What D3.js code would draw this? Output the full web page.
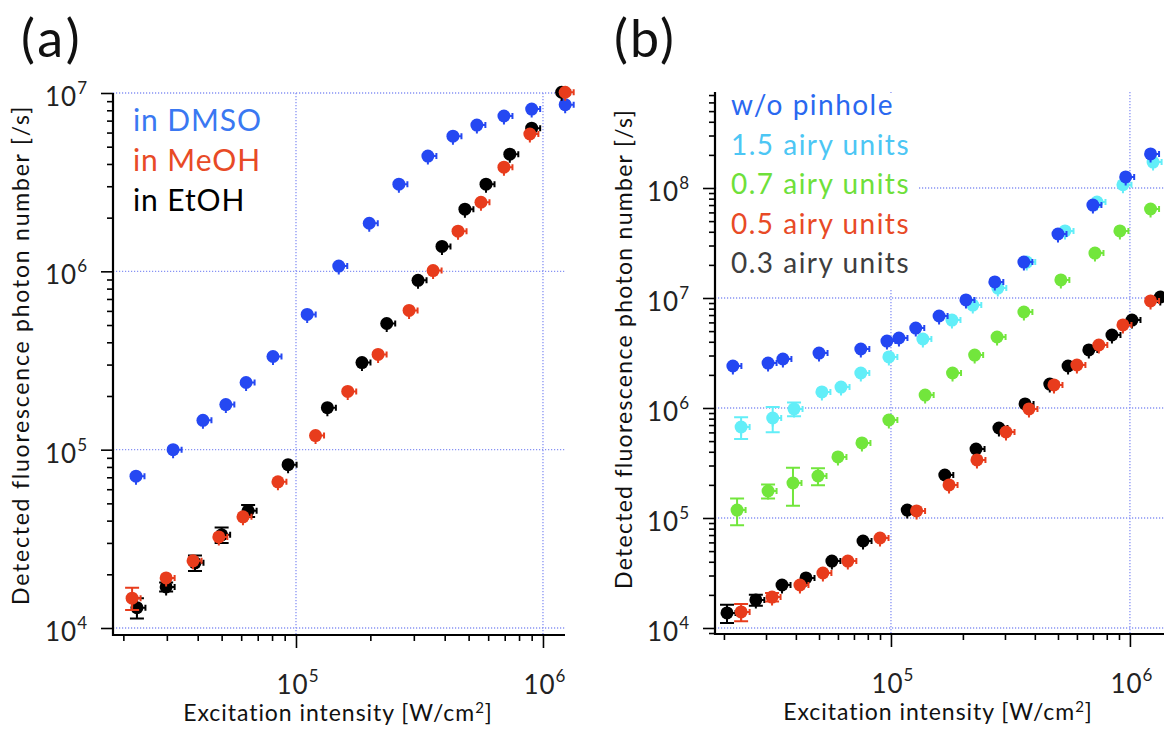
<!DOCTYPE html>
<html><head><meta charset="utf-8">
<script src="https://cdn.jsdelivr.net/npm/d3@7"></script>
<style>
body{margin:0;background:#fff}
svg{display:block}
text{font-family:Lato,"Open Sans",sans-serif;}
</style>
</head><body>
<svg id="c" width="1164" height="734"></svg>
<script>
// ---------- Panel (a) data ----------
const aX_DMSO = [2.25e4,3.18e4,4.2e4,5.2e4,6.28e4,8.07e4,1.11e5,1.49e5,1.98e5,2.61e5,3.42e5,4.32e5,5.4e5,6.95e5,9.0e5,1.23e6];
const aY_DMSO = [7.1e4,1.0e5,1.46e5,1.79e5,2.38e5,3.33e5,5.73e5,1.07e6,1.86e6,3.08e6,4.43e6,5.73e6,6.61e6,7.43e6,8.13e6,8.6e6];
const aE_DMSO = [0,0,0,0,0,0,0,0,0,0,0,0,0,0,0,0];

const aX_EtOH = [2.27e4,2.98e4,3.9e4,5.0e4,6.4e4,9.29e4,1.34e5,1.85e5,2.33e5,3.12e5,3.9e5,4.83e5,5.88e5,7.34e5,9.0e5,1.19e6];
const aY_EtOH = [1.3e4,1.7e4,2.32e4,3.33e4,4.54e4,8.24e4,1.72e5,3.08e5,5.1e5,8.9e5,1.38e6,2.23e6,3.08e6,4.54e6,6.35e6,1.01e7];
const aE_EtOH = [1.7e3,1.0e3,2.3e3,3.3e3,3.5e3,0,0,0,0,0,0,0,0,0,0,0];

const aX_MeOH = [2.17e4,2.98e4,3.83e4,4.87e4,6.1e4,8.45e4,1.2e5,1.62e5,2.15e5,2.87e5,3.59e5,4.53e5,5.61e5,6.95e5,8.85e5,1.23e6];
const aY_MeOH = [1.47e4,1.91e4,2.38e4,3.24e4,4.2e4,6.6e4,1.2e5,2.12e5,3.42e5,6.04e5,1.01e6,1.68e6,2.44e6,3.84e6,5.89e6,1.01e7];
const aE_MeOH = [2.1e3,0,0,0,0,0,0,0,0,0,0,0,0,0,0,0];

const aLegend = ["in DMSO","in MeOH","in EtOH"];

// ---------- Panel (b) data ----------
const bX_wo = [2.18e4,3.06e4,3.53e4,5.0e4,7.48e4,9.62e4,1.08e5,1.27e5,1.59e5,2.06e5,2.72e5,3.6e5,5.0e5,7.0e5,9.6e5,1.22e6];
const bY_wo = [2.41e6,2.56e6,2.79e6,3.16e6,3.44e6,4.06e6,4.33e6,5.33e6,6.86e6,9.6e6,1.4e7,2.12e7,3.82e7,7.0e7,1.26e8,2.04e8];
const bE_wo = [0,0,0,0,0,0,0,0,0,0,0,0,0,0,0,0];

const bX_15 = [2.36e4,3.2e4,3.93e4,5.14e4,6.18e4,7.48e4,9.8e4,1.36e5,1.8e5,2.2e5,2.8e5,3.7e5,5.35e5,7.28e5,9.35e5,1.25e6];
const bY_15 = [6.72e5,8.11e5,9.8e5,1.4e6,1.55e6,2.08e6,2.91e6,4.24e6,6.3e6,8.63e6,1.23e7,2.12e7,4.07e7,7.46e7,1.07e8,1.72e8];
const bE_15 = [1.5e5,2.1e5,1.4e5,0,0,0,0,0,0,0,0,0,0,0,0,0];

const bX_07 = [2.27e4,3.06e4,3.89e4,4.95e4,6.0e4,7.56e4,9.8e4,1.39e5,1.81e5,2.24e5,2.78e5,3.6e5,5.14e5,7.14e5,9.08e5,1.22e6];
const bY_07 = [1.18e5,1.76e5,2.08e5,2.41e5,3.59e5,4.81e5,7.78e5,1.31e6,2.08e6,3.03e6,4.42e6,7.46e6,1.46e7,2.56e7,4.07e7,6.44e7];
const bE_07 = [3.2e4,2.6e4,7.9e4,4.3e4,0,0,0,0,0,0,0,0,0,0,0,0];

const bX_05 = [2.36e4,3.18e4,4.16e4,5.19e4,6.6e4,9.0e4,1.28e5,1.75e5,2.29e5,3.03e5,3.78e5,4.81e5,6.0e5,7.41e5,9.35e5,1.22e6];
const bY_05 = [1.4e4,1.91e4,2.46e4,3.16e4,4.06e4,6.58e4,1.16e5,2.0e5,3.37e5,6.05e5,9.8e5,1.62e6,2.46e6,3.74e6,5.69e6,9.4e6];
const bE_05 = [2.5e3,1.7e3,0,0,0,0,0,0,0,0,0,0,0,0,0,0];

const bX_03 = [2.06e4,2.72e4,3.5e4,4.41e4,5.66e4,7.64e4,1.17e5,1.68e5,2.27e5,2.83e5,3.64e5,4.62e5,5.51e5,6.73e5,8.41e5,1.02e6,1.34e6];
const bY_03 = [1.37e4,1.8e4,2.46e4,2.85e4,4.06e4,6.18e4,1.18e5,2.46e5,4.24e5,6.58e5,1.09e6,1.65e6,2.41e6,3.37e6,4.61e6,6.3e6,1.02e7];
const bE_03 = [2.6e3,2.1e3,0,0,0,0,0,0,0,0,0,0,0,0,0,0,0];

const bLegend = ["w/o pinhole","1.5 airy units","0.7 airy units","0.5 airy units","0.3 airy units"];

const yTicksA = [1e4,1e5,1e6,1e7];
const xTicksA = [1e5,1e6];
const yTicksB = [1e4,1e5,1e6,1e7,1e8];
const xTicksB = [1e5,1e6];

const xTitle = "Excitation intensity [W/cm";
const yTitle = "Detected fluorescence photon number [/s]";

// ---------- drawing ----------
const svg = d3.select("#c");
const GRID = "#8792f4";

function zip(xs, ys, es){ return xs.map((v,i)=>({x:v,y:ys[i],e:es[i]||0})); }
// widen a text to a target length with letter-spacing
function fitLS(sel, target){
  const L = sel.node().getComputedTextLength();
  const n = sel.text().length;
  const ls = (target - L) / n;
  sel.attr("letter-spacing", ls);
  return ls;
}

function drawPanel(p){
  const g = svg.append("g");
  const x = d3.scaleLog().domain(p.xDom).range(p.xRng);
  const y = d3.scaleLog().domain(p.yDom).range(p.yRng);
  const X0 = p.xRng[0], X1 = p.xRng[1], Yb = p.yRng[0], Yt = p.yRng[1];

  // grid
  g.selectAll(null).data(p.yTicks).join("line")
    .attr("x1",X0).attr("x2",p.gridRight).attr("y1",d=>y(d)).attr("y2",d=>y(d))
    .attr("stroke",GRID).attr("stroke-width",1.3).attr("stroke-dasharray","1.2,1.8");
  g.selectAll(null).data(p.xTicks).join("line")
    .attr("x1",d=>x(d)).attr("x2",d=>x(d)).attr("y1",Yt).attr("y2",Yb)
    .attr("stroke",GRID).attr("stroke-width",1.3).attr("stroke-dasharray","1.2,1.8");

  // legend box (covers grid)
  if (p.legendBox) g.append("rect").attr("x",p.legendBox[0]).attr("y",p.legendBox[1])
      .attr("width",p.legendBox[2]).attr("height",p.legendBox[3]).attr("fill","#fff");

  // axes: minor + major ticks
  const yAll = y.ticks().filter(d=>d>=p.yDom[0]&&d<=p.yDom[1]);
  const xAll = x.ticks().filter(d=>d>=p.xDom[0]&&d<=p.xDom[1]);
  const isMajor = d => Math.abs(Math.log10(d)-Math.round(Math.log10(d)))<1e-9;
  const styleAxis = s => { s.select(".domain").remove(); s.selectAll("line").attr("stroke","#000").attr("stroke-width",1.6); };
  g.append("g").attr("transform",`translate(${X0},0)`)
    .call(d3.axisLeft(y).tickValues(yAll.filter(d=>!isMajor(d))).tickSize(6).tickFormat(""))
    .call(styleAxis);
  g.append("g").attr("transform",`translate(${X0},0)`)
    .call(d3.axisLeft(y).tickValues(p.yTicks).tickSize(12).tickFormat(""))
    .call(styleAxis);
  g.append("g").attr("transform",`translate(0,${Yb})`)
    .call(d3.axisBottom(x).tickValues(xAll.filter(d=>!isMajor(d))).tickSize(6).tickFormat(""))
    .call(styleAxis);
  g.append("g").attr("transform",`translate(0,${Yb})`)
    .call(d3.axisBottom(x).tickValues(p.xTicks).tickSize(13).tickFormat(""))
    .call(styleAxis);
  // axis lines
  g.append("path").attr("d",`M${X0},${Yt}V${Yb}H${X1}`).attr("fill","none").attr("stroke","#000").attr("stroke-width",2.2);

  // tick labels
  const lab = (sel) => {
    sel.append("tspan").text("10");
    sel.append("tspan").attr("dy",-12).attr("font-size",17).text(d=>Math.round(Math.log10(d)));
  };
  g.selectAll(null).data(p.yTicks).join("text")
    .attr("x",X0-25).attr("y",d=>y(d)+13).attr("text-anchor","end")
    .attr("font-size",26).attr("letter-spacing",1).attr("fill","#222").call(lab);
  g.selectAll(null).data(p.xTicks).join("text")
    .attr("x",d=>x(d)+2).attr("y",Yb+59).attr("text-anchor","middle")
    .attr("font-size",26).attr("letter-spacing",1).attr("fill","#222").call(lab);

  // axis titles
  const xt = g.append("text").attr("x",p.xTitleX).attr("y",Yb+86).attr("text-anchor","middle")
    .attr("font-size",23).attr("fill","#111");
  xt.append("tspan").text(xTitle);
  xt.append("tspan").attr("dy",-8).attr("font-size",15).text("2");
  xt.append("tspan").attr("dy",8).text("]");
  fitLS(xt, 310);
  const yt = g.append("text").attr("transform",`translate(${p.yTitleX},${p.yTitleY}) rotate(-90)`)
    .attr("text-anchor","middle").attr("font-size",23).attr("fill","#111").text(yTitle);
  fitLS(yt, p.yTitleLen);

  // series
  p.series.forEach(s=>{
    const pts = zip(s.xs,s.ys,s.es);
    const sg = g.append("g");
    const eb = pts.filter(d=>d.e>0);
    sg.selectAll(null).data(eb).join("path")
      .attr("d",d=>{const cx=x(d.x), y1=y(d.y+d.e), y2=y(Math.max(d.y-d.e,1));
        return `M${cx},${y1}V${y2}M${cx-7},${y1}H${cx+7}M${cx-7},${y2}H${cx+7}`;})
      .attr("stroke",s.color).attr("stroke-width",2).attr("fill","none");
    // small x-error stubs
    sg.selectAll(null).data(pts).join("path")
      .attr("d",d=>{const cx=x(d.x), cy=y(d.y); return `M${cx},${cy}H${cx+8.5}M${cx+8.5},${cy-3}V${cy+3}M${cx},${cy}V${cy+8.5}`;})
      .attr("stroke",s.color).attr("stroke-width",2).attr("fill","none");
    sg.selectAll(null).data(pts).join("circle")
      .attr("cx",d=>x(d.x)).attr("cy",d=>y(d.y)).attr("r",6.5).attr("fill",s.color);
  });

  // legend
  const lg = g.selectAll(null).data(p.legend).join("text")
    .attr("x",p.legX).attr("y",(d,i)=>p.legY+i*p.legDy)
    .attr("font-size",p.legSize).attr("fill",(d,i)=>p.legColors[i]).text(d=>d);
  const ls = fitLS(d3.select(lg.nodes()[p.legFitIdx]), p.legFitLen);
  lg.attr("letter-spacing", ls);

  // panel label
  const pl = g.append("text").attr("x",p.labX).attr("y",57).attr("font-size",52).attr("fill","#111").text(p.label);
  fitLS(pl, 62);
}

drawPanel({
  xDom:[1.816e4,1.228e6], xRng:[113,565], yDom:[9136,1e7], yRng:[635,93], gridRight:565,
  yTicks:yTicksA, xTicks:xTicksA, xTitleX:338, yTitleX:29, yTitleY:355, yTitleLen:500,
  series:[
    {xs:aX_DMSO, ys:aY_DMSO, es:aE_DMSO, color:"#2548f2"},
    {xs:aX_EtOH, ys:aY_EtOH, es:aE_EtOH, color:"#000000"},
    {xs:aX_MeOH, ys:aY_MeOH, es:aE_MeOH, color:"#e83c1c"}
  ],
  legend:aLegend, legX:133, legY:131, legDy:40, legSize:30, legFitIdx:0, legFitLen:129,
  legColors:["#3a78f2","#e84a26","#000000"],
  label:"(a)", labX:21
});

drawPanel({
  xDom:[1.835e4,1.5e6], xRng:[715,1172], yDom:[8818,7.46e8], yRng:[634,92], gridRight:1172,
  yTicks:yTicksB, xTicks:xTicksB, xTitleX:938, yTitleX:632, yTitleY:349, yTitleLen:480,
  legendBox:[717,93,201,196],
  series:[
    {xs:bX_03, ys:bY_03, es:bE_03, color:"#000000"},
    {xs:bX_05, ys:bY_05, es:bE_05, color:"#e83c1c"},
    {xs:bX_07, ys:bY_07, es:bE_07, color:"#72e63c"},
    {xs:bX_15, ys:bY_15, es:bE_15, color:"#62eef8"},
    {xs:bX_wo, ys:bY_wo, es:bE_wo, color:"#2346f2"}
  ],
  legend:bLegend, legX:731, legY:115, legDy:39.5, legSize:28, legFitIdx:1, legFitLen:179,
  legColors:["#2a68f0","#4cc6f4","#6ee03a","#e84a26","#3e3e3e"],
  label:"(b)", labX:614
});
</script>
</body></html>
